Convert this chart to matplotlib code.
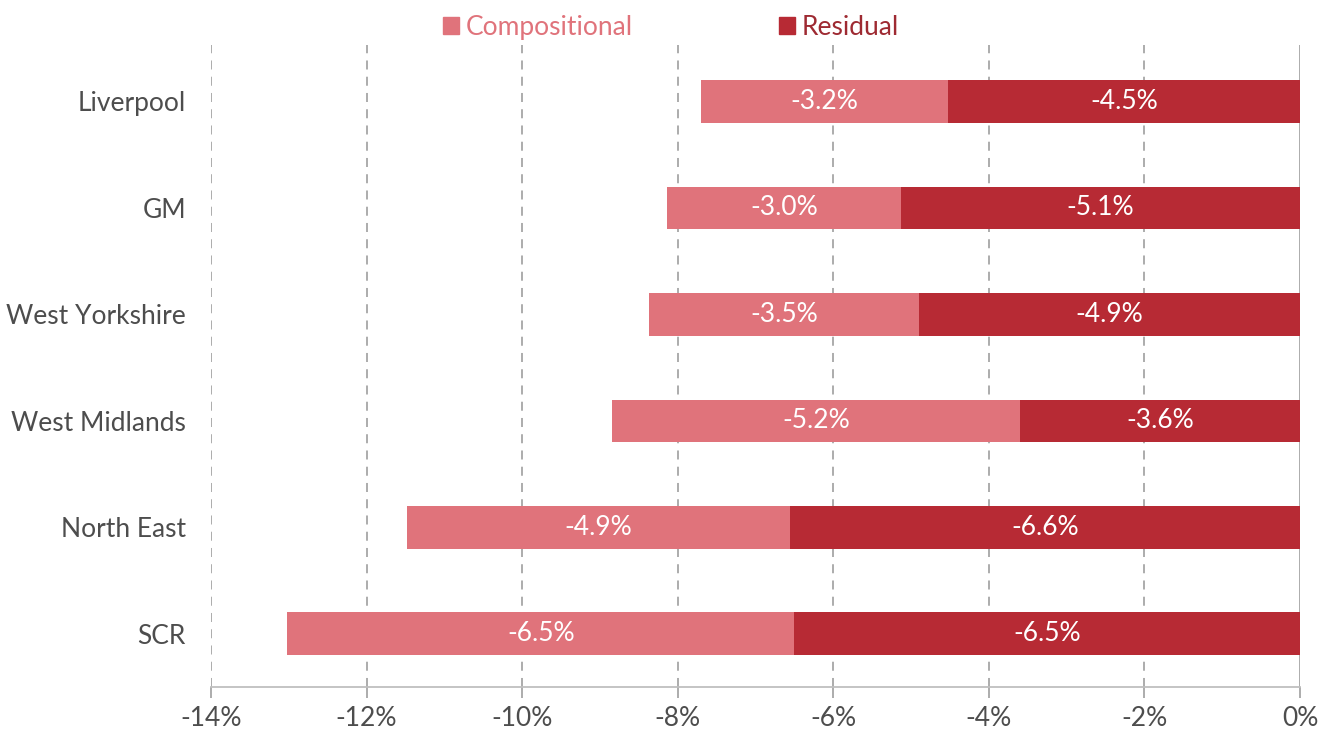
import matplotlib.pyplot as plt
import matplotlib.patches as mpatches
import numpy as np

plt.rcParams['font.family'] = ['Lato', 'DejaVu Sans']

regions = ['SCR', 'North East', 'West Midlands', 'West Yorkshire', 'GM', 'Liverpool']
residual = [-6.50, -6.56, -3.60, -4.90, -5.13, -4.52]
compositional = [-6.52, -4.92, -5.24, -3.47, -3.01, -3.18]
xticks = [-14, -12, -10, -8, -6, -4, -2, 0]

col_comp = '#E0737B'
col_res = '#B72A34'
grey_txt = '#4D4D4D'
fs = 19

fig = plt.figure(figsize=(13.33, 7.33), dpi=100)
ax = fig.add_axes([0.1583, 0.0628, 0.8170, 0.8758])

y = np.arange(len(regions))
h = 0.40
ax.barh(y, residual, height=h, color=col_res, zorder=3)
ax.barh(y, compositional, left=residual, height=h, color=col_comp, zorder=3)

for i in range(len(regions)):
    ax.text(residual[i] / 2, y[i], f'{residual[i]:.1f}%', ha='center', va='center',
            color='white', fontsize=fs, zorder=4)
    ax.text(residual[i] + compositional[i] / 2, y[i], f'{compositional[i]:.1f}%',
            ha='center', va='center', color='white', fontsize=fs, zorder=4)

ax.set_xlim(-14, 0)
ax.set_ylim(-0.5, 5.53)
ax.set_xticks(xticks)
ax.set_xticklabels([f'{t}%' for t in xticks])
ax.set_yticks(y)
ax.set_yticklabels(regions)

for t in xticks[:-1]:
    ax.axvline(t, color='#A6A6A6', lw=1.3, ls=(0, (5, 4)), zorder=1)
ax.axvline(0, color='#A6A6A6', lw=1.3, zorder=2)

for s in ['top', 'right', 'left']:
    ax.spines[s].set_visible(False)
ax.spines['bottom'].set_color('#BFBFBF')
ax.spines['bottom'].set_linewidth(1.3)
ax.tick_params(axis='x', colors='#A6A6A6', length=8, width=1.3, labelcolor=grey_txt,
               labelsize=fs, pad=6)
ax.tick_params(axis='y', length=0, labelcolor=grey_txt, labelsize=fs, pad=18)

handles = [mpatches.Patch(color=col_comp, label='Compositional'),
           mpatches.Patch(color=col_res, label='Residual')]
ax.legend(handles=handles, loc='center', bbox_to_anchor=(0.4225, 1.028), ncol=2,
          frameon=False, fontsize=fs, handlelength=0.6, handleheight=0.6,
          handletextpad=0.25, columnspacing=5.55, labelcolor=[col_comp, '#9E2A32'],
          borderpad=0, borderaxespad=0)

fig.savefig('out.png', dpi=100)
